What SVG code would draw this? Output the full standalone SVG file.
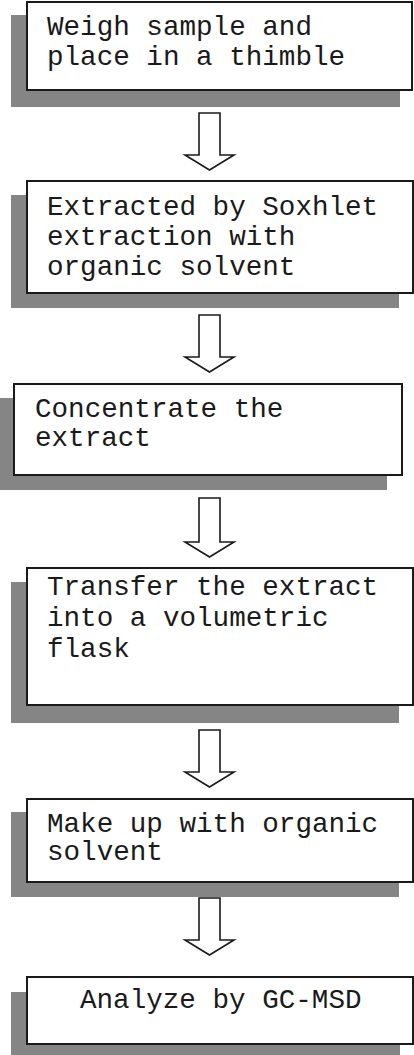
<svg xmlns="http://www.w3.org/2000/svg" width="414" height="1055" viewBox="0 0 414 1055">
<defs>
<style>
.shadow{fill:#858585;}
.box{fill:#ffffff;stroke:#1a1a1a;stroke-width:2;}
.lbl{font-family:"Liberation Mono","Courier New",monospace;font-size:27.6px;fill:#1a1a1a;}
.arrow{fill:#ffffff;stroke:#1a1a1a;stroke-width:1.6;stroke-linejoin:miter;}
</style>
</defs>
<rect width="414" height="1055" fill="#ffffff"/>
<g id="node1">
<rect class="shadow" x="11" y="15" width="389" height="92"/>
<rect class="box" x="27" y="2" width="385" height="88"/>
<text class="lbl" x="47" y="35">Weigh sample and</text>
<text class="lbl" x="47" y="65">place in a thimble</text>
</g>
<g id="node2">
<rect class="shadow" x="11" y="195" width="388" height="113"/>
<rect class="box" x="27" y="181" width="386" height="112"/>
<text class="lbl" x="47" y="215">Extracted by Soxhlet</text>
<text class="lbl" x="47" y="245">extraction with</text>
<text class="lbl" x="47" y="275">organic solvent</text>
</g>
<g id="node3">
<rect class="shadow" x="0" y="398" width="387" height="92"/>
<rect class="box" x="14" y="384" width="388" height="91"/>
<text class="lbl" x="35" y="417">Concentrate the</text>
<text class="lbl" x="35" y="446">extract</text>
</g>
<g id="node4">
<rect class="shadow" x="11" y="582" width="388" height="141"/>
<rect class="box" x="27" y="568" width="386" height="137"/>
<text class="lbl" x="47" y="595">Transfer the extract</text>
<text class="lbl" x="47" y="626">into a volumetric</text>
<text class="lbl" x="47" y="657">flask</text>
</g>
<g id="node5">
<rect class="shadow" x="11" y="812" width="388" height="85"/>
<rect class="box" x="27" y="799" width="386" height="83"/>
<text class="lbl" x="47" y="832">Make up with organic</text>
<text class="lbl" x="47" y="860">solvent</text>
</g>
<g id="node6">
<rect class="shadow" x="11" y="992" width="389" height="63"/>
<rect class="box" x="27" y="977" width="386" height="67"/>
<text class="lbl" x="80" y="1008">Analyze by GC-MSD</text>
</g>
<g id="connectors">
<polygon class="arrow" points="199,113 220,113 220,155 234,155 209.5,170 185,155 199,155"/>
<polygon class="arrow" points="199,315 220,315 220,357 234,357 209.5,372 185,357 199,357"/>
<polygon class="arrow" points="199,498 220,498 220,542 234,542 209.5,557 185,542 199,542"/>
<polygon class="arrow" points="199,730 220,730 220,772 234,772 209.5,787 185,772 199,772"/>
<polygon class="arrow" points="199,898 220,898 220,940 234,940 209.5,955 185,940 199,940"/>
</g>
</svg>
